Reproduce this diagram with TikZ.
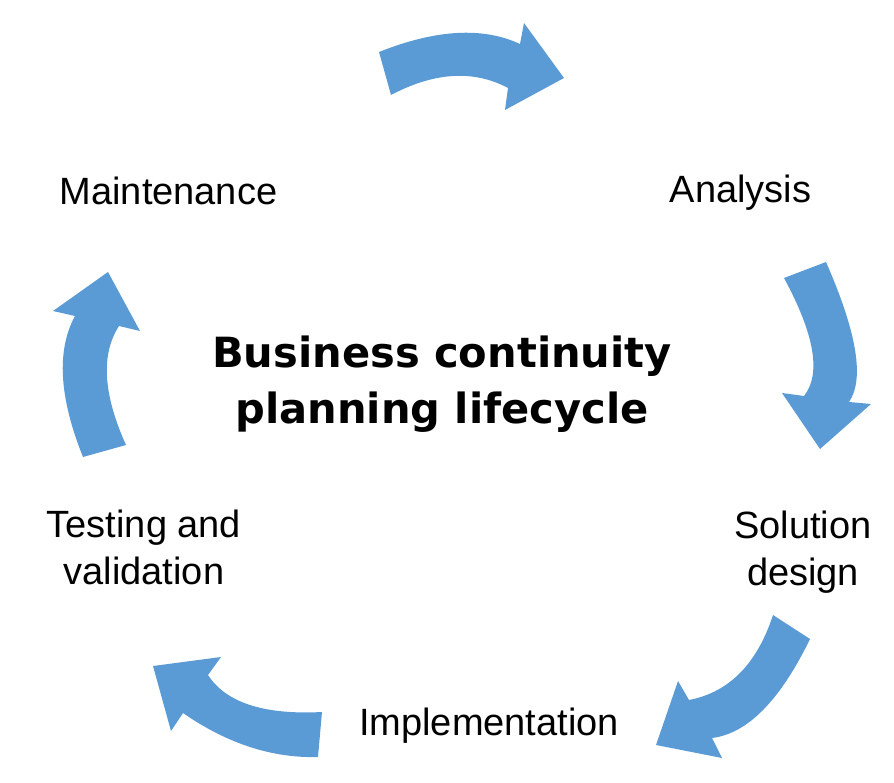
\documentclass[tikz,border=0pt]{standalone}
\usepackage{fontspec}
\setmainfont{Liberation Sans}
\newfontfamily\titlefont{DejaVu Sans}
\usepackage{xcolor}
\definecolor{arrowblue}{RGB}{91,155,213}

\begin{document}
\begin{tikzpicture}[x=1pt, y=-1pt]
        \tikzset{
            cycle_arrow/.style={fill=arrowblue, draw=none},
            stage_label/.style={align=center, inner sep=0pt, anchor=base, font=\fontsize{38}{47}\selectfont},
            title_label/.style={align=center, inner sep=0pt, anchor=base, font=\titlefont\bfseries\fontsize{41.6}{55}\selectfont}
        }
        \useasboundingbox (0,0) rectangle (894,783);
        \node[title_label] (T) at (442,423) {Business continuity\\planning lifecycle};
        \node[stage_label] (M) at (168.5,205) {Maintenance};
        \node[stage_label] (A) at (740.5,203) {Analysis};
        \node[stage_label] (S) at (803,585) {Solution\\design};
        \node[stage_label] (I) at (489,735) {Implementation};
        \node[stage_label] (V) at (144,584) {Testing and\\validation};
        % maintenance -> analysis
        \path[cycle_arrow] (379,52) .. controls (436,29.3) and (483,26.7) .. (520,44) -- (524,23) -- (564,78)
            -- (505,110) -- (508,88) .. controls (473.7,69.7) and (434.7,72) .. (391,95) -- cycle;
        % analysis -> solution design
        \path[cycle_arrow] (826,262) .. controls (857,332.7) and (864.7,379.3) .. (849,402) -- (871,404) -- (820,449)
            -- (782,393) -- (804,396) .. controls (821.3,374) and (814.7,334.7) .. (784,278) -- cycle;
        % solution design -> implementation
        \path[cycle_arrow] (810,639) .. controls (780,700.7) and (747.3,733.7) .. (712,738) -- (722,758) -- (656,745)
            -- (678,681) -- (689,700) .. controls (729,692.3) and (757,664) .. (773,615) -- cycle;
        % implementation -> testing
        \path[cycle_arrow] (318,757) .. controls (272.3,758.3) and (227.3,743.7) .. (183,713) -- (171,731) -- (153,666)
            -- (221,657) -- (208,675) .. controls (226,702.7) and (264,715) .. (322,712) -- cycle;
        % testing -> maintenance
        \path[cycle_arrow] (83,457) .. controls (59,397.3) and (56.3,350.3) .. (75,316) -- (53,311) -- (108,272)
            -- (140,331) -- (119,326) .. controls (100.7,354.3) and (103,394) .. (126,445) -- cycle;
    \end{tikzpicture}
\end{document}
